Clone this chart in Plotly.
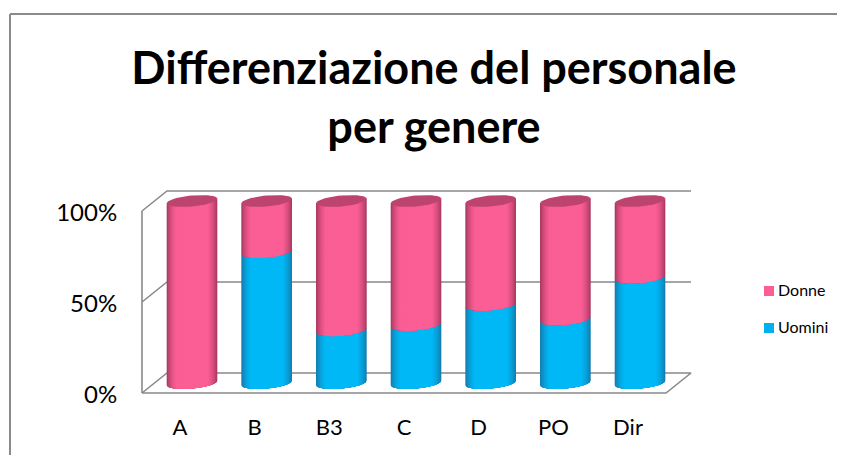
import math
import plotly.graph_objects as go

categories = ["A", "B", "B3", "C", "D", "PO", "Dir"]
uomini = [0, 72, 29, 32, 43, 35, 58]
donne = [100, 28, 71, 68, 57, 65, 42]
y_ticks = [0, 50, 100]
y_labels = ["0%", "50%", "100%"]

OFF = 8                       # page body margin
W, H = 845 - OFF, 455 - OFF
L, R, T, B = 130 - OFF, 725 - OFF, 180 - OFF, 400 - OFF
CX0, DX = 192.0 - OFF, 74.67  # px of first cylinder centre, px per category
Y0, PY = 393.0 - OFF, 1.82    # px of 0 %, px per percent
xr = [(L - CX0) / DX, (R - CX0) / DX]
yr = [(Y0 - B) / PY, (Y0 - T) / PY]
DEPTH_X, DEPTH_Y = 25 / DX, 20 / PY
BASE = 5.5                    # cylinder axis starts inside the 3-D floor
RAD = 25.3 / DX
ELL = 5.5 / PY
RISE = 2.2 / PY               # tilt of the ellipse: rise at the right edge
GRAY = "#898989"

def curve(i, level, frac, lower=True, n=24):
    pts = []
    for k in range(n + 1):
        t = math.pi - math.pi * k / n
        u = frac * math.cos(t)
        s = math.sqrt(max(0, 1 - u * u))
        x = i + RAD * u
        y = level + RISE * u + (-ELL * s if lower else ELL * s)
        pts.append((x, y))
    return pts

def body(i, v0, v1, frac):
    low = curve(i, BASE + v0, frac, True)
    top = [(x, BASE + v1 + RISE * (x - i) / RAD) for x, _ in low][::-1]
    return low + top + [low[0]]

def mix(a, b, f):
    return "rgb(%d,%d,%d)" % tuple(round(a[j] + (b[j] - a[j]) * f) for j in range(3))

LEVELS = [1.0, .98, .95, .92, .88, .84, .79, .73, .66, .56, .42]
def shaded(fig, v0s, v1s, edge, mid):
    for n, frac in enumerate(LEVELS):
        xs, ys = [], []
        for i, (a, b) in enumerate(zip(v0s, v1s)):
            if b <= a:
                continue
            for x, y in body(i, a, b, frac):
                xs.append(x); ys.append(y)
            xs.append(None); ys.append(None)
        fig.add_trace(go.Scatter(x=xs, y=ys, mode="lines", fill="toself",
                                 line=dict(width=0), hoverinfo="skip", showlegend=False,
                                 fillcolor=mix(edge, mid, min(1, n / 8))))

fig = go.Figure()

# walls and floor
left = (142 - OFF - CX0) / DX
right = (666 - OFF - CX0) / DX
for v in y_ticks:
    fig.add_trace(go.Scatter(
        x=[left, left + DEPTH_X, right + DEPTH_X] + ([right, left] if v == 0 else []),
        y=[v, v + DEPTH_Y, v + DEPTH_Y] + ([0, 0] if v == 0 else []),
        mode="lines", line=dict(color=GRAY, width=1.6), hoverinfo="skip", showlegend=False))
fig.add_trace(go.Scatter(x=[left, left], y=[0, 100], mode="lines",
                         line=dict(color=GRAY, width=1.6), hoverinfo="skip", showlegend=False))

blue_edge, blue_mid = (20, 122, 172), (0, 184, 245)
pink_edge, pink_mid = (165, 55, 95), (250, 94, 148)

tops = [a + b for a, b in zip(uomini, donne)]
shaded(fig, [0] * 7, uomini, blue_edge, blue_mid)
shaded(fig, uomini, tops, pink_edge, pink_mid)

# top caps of the cylinders
xs, ys = [], []
for i, t in enumerate(tops):
    low = curve(i, BASE + t, 1.0, True)
    up = curve(i, BASE + t, 1.0, False)[::-1]
    for x, y in low + up:
        xs.append(x); ys.append(y)
    xs.append(None); ys.append(None)
fig.add_trace(go.Scatter(x=xs, y=ys, mode="lines", fill="toself", line=dict(width=0),
                         fillcolor="rgb(190,68,112)", hoverinfo="skip", showlegend=False))

pw, ph = R - L, B - T
fx = lambda px: (px - OFF - L) / pw
fy = lambda py: (B - (py - OFF)) / ph

# legend entries (text in the legend; keys sit closer to the text than Plotly's minimum gap)
series = [("Donne", "rgb(250,94,148)", "d", 286), ("Uomini", "rgb(0,176,240)", "u", 323)]
for name, col, grp, ky in series:
    fig.add_trace(go.Scatter(x=[None], y=[None], mode="markers", name=name, legendgroup=grp,
                             marker=dict(symbol="square", size=10, color="rgba(0,0,0,0)")))
    fig.add_shape(type="rect", xref="paper", yref="paper", x0=fx(764), x1=fx(774), y0=fy(ky), y1=fy(ky + 10),
                  line=dict(width=0), fillcolor=col)

# chart-area frame: only the top and left edges are visible in the picture
fig.add_shape(type="line", xref="paper", yref="paper", x0=fx(10), x1=fx(845), y0=fy(14), y1=fy(14),
              line=dict(color="#8a8a8a", width=2))
fig.add_shape(type="line", xref="paper", yref="paper", x0=fx(10), x1=fx(10), y0=fy(14), y1=fy(455),
              line=dict(color="#8a8a8a", width=2))

fig.update_layout(
    width=W, height=H, autosize=False,
    margin=dict(l=L, r=W - R, t=T, b=H - B, autoexpand=False),
    paper_bgcolor="white", plot_bgcolor="white",
    font=dict(family="Lato, Carlito, sans-serif", color="black"),
    title=dict(text="<b>Differenziazione del personale<br>per genere</b>",
               font=dict(size=45, family="Lato, sans-serif"), x=(434 - OFF) / W, xanchor="center",
               xref="container", y=1 - 76 / H, yanchor="top", yref="container"),
    xaxis=dict(range=xr, showgrid=False, zeroline=False, showline=False,
               tickmode="array", tickvals=[i - 12 / DX for i in range(7)], ticktext=categories,
               ticks="outside", ticklen=8, tickcolor="rgba(0,0,0,0)", tickfont=dict(size=22)),
    yaxis=dict(range=yr, showgrid=False, zeroline=False, showline=False,
               tickmode="array", tickvals=y_ticks, ticktext=y_labels,
               ticks="outside", ticklen=7, tickcolor="rgba(0,0,0,0)", tickfont=dict(size=24),
               ticklabelshift=2),
    legend=dict(x=fx(749), y=fy(273), xanchor="left", yanchor="top", tracegroupgap=13,
                font=dict(size=16), itemwidth=30, indentation=-11, bgcolor="rgba(0,0,0,0)"),
)
fig.write_html("out.html")
